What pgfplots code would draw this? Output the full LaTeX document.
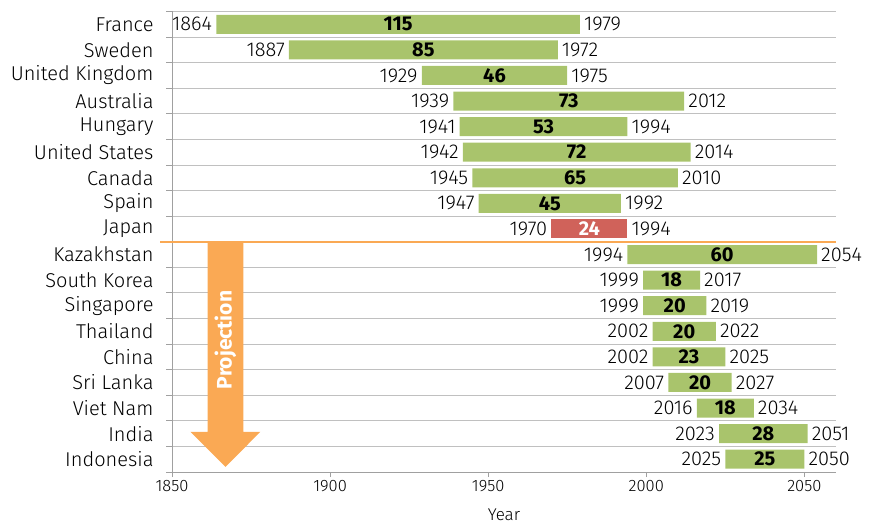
\documentclass[border=0pt]{standalone}
\usepackage{fontspec}
\setmainfont{Fira Sans}[UprightFont={* Light}, BoldFont={* Bold}]
\usepackage{pgfplots}
\usepackage{pgfplotstable}
\pgfplotsset{compat=1.18}
\definecolor{barg}{HTML}{A9C46C}
\definecolor{barr}{HTML}{D0625A}
\definecolor{arr}{HTML}{FAA954}
\definecolor{gridc}{HTML}{C0C0C0}
\definecolor{axc}{HTML}{A0A0A0}
\newcommand\lab{\fontsize{20bp}{22bp}\selectfont}
\newcommand\tlab{\fontsize{16.5bp}{18bp}\selectfont}

\pgfplotstableread{
row start dur g r end
17 1864 115 115 0 1979
16 1887 85 85 0 1972
15 1929 46 46 0 1975
14 1939 73 73 0 2012
13 1941 53 53 0 1994
12 1942 72 72 0 2014
11 1945 65 65 0 2010
10 1947 45 45 0 1992
9 1970 24 0 24 1994
8 1994 60 60 0 2054
7 1999 18 18 0 2017
6 1999 20 20 0 2019
5 2002 20 20 0 2022
4 2002 23 23 0 2025
3 2007 20 20 0 2027
2 2016 18 18 0 2034
1 2023 28 28 0 2051
0 2025 25 25 0 2050
}\datatable

\pgfplotsset{frame/.style={scale only axis, width=664bp, height=460.5bp,
  at={(172bp,55bp)}, anchor=south west,
  xmin=1850, xmax=2060, ymin=-0.5, ymax=17.5}}

\begin{document}
\begin{tikzpicture}
\begin{axis}[frame,
  xbar stacked, bar width=19bp,
  axis x line*=bottom, axis y line*=left,
  axis line style={axc, line width=0.9bp, -},
  xtick={1850,1900,...,2050}, tick align=outside,
  major tick length=5bp, minor tick length=6bp,
  major x tick style={axc, line width=0.9bp},
  ytick={0,...,17},
  yticklabels={Indonesia, India, Viet Nam, Sri Lanka, China, Thailand, Singapore, South Korea, Kazakhstan, Japan, Spain, Canada, United States, Hungary, Australia, United Kingdom, Sweden, France},
  major y tick style={draw=none},
  minor ytick={-0.5,0.5,...,17.5},
  yminorgrids, minor grid style={gridc, line width=0.9bp},
  minor y tick style={axc, line width=0.9bp},
  yticklabel style={font=\lab, anchor=east, xshift=-10bp},
  xticklabel style={font=\tlab},
  xlabel={Year}, xlabel style={font=\fontsize{17bp}{19bp}\selectfont, yshift=-10bp},
  /pgf/number format/.cd, 1000 sep={}, assume math mode=true,
]
\addplot[draw=none, fill=none] table[x=start, y=row]{\datatable};
\addplot[draw=none, fill=barg] table[x=g, y=row]{\datatable};
\addplot[draw=none, fill=barr] table[x=r, y=row]{\datatable};
\end{axis}

\begin{axis}[frame, hide axis, clip=false]
\draw[arr, line width=2bp] ([xshift=-12bp]axis cs:1850,8.5) -- (axis cs:2060,8.5);
\fill[arr] (axis cs:1861.25,8.5) -- (axis cs:1872.55,8.5) -- (axis cs:1872.55,1.07)
  -- (axis cs:1877.95,1.07) -- (axis cs:1866.9,-0.3) -- (axis cs:1855.85,1.07)
  -- (axis cs:1861.25,1.07) -- cycle;
\node[rotate=90, text=white, font=\fontsize{21bp}{23bp}\selectfont\bfseries] at (axis cs:1866.9,4.66) {Projection};
\addplot[draw=none, nodes near coords, point meta=explicit symbolic,
  every node near coord/.style={anchor=east, font=\lab, inner sep=0pt, xshift=-4bp}]
  table[x=start, y=row, meta=start]{\datatable};
\addplot[draw=none, nodes near coords, point meta=explicit symbolic,
  every node near coord/.style={anchor=west, font=\lab, inner sep=0pt, xshift=4bp}]
  table[x=end, y=row, meta=end]{\datatable};
\addplot[draw=none, nodes near coords, point meta=explicit symbolic,
  y filter/.expression={y==9 ? nan : y},
  every node near coord/.style={anchor=center, font=\lab\bfseries, inner sep=0pt}]
  table[x expr=\thisrow{start}+\thisrow{dur}/2, y=row, meta=dur]{\datatable};
\addplot[draw=none, nodes near coords, point meta=explicit symbolic,
  y filter/.expression={y==9 ? y : nan},
  every node near coord/.style={anchor=center, font=\lab\bfseries, text=white, inner sep=0pt}]
  table[x expr=\thisrow{start}+\thisrow{dur}/2, y=row, meta=dur]{\datatable};
\end{axis}
\pgfresetboundingbox
\path (0,0) rectangle (878bp,527bp);
\end{tikzpicture}
\end{document}
